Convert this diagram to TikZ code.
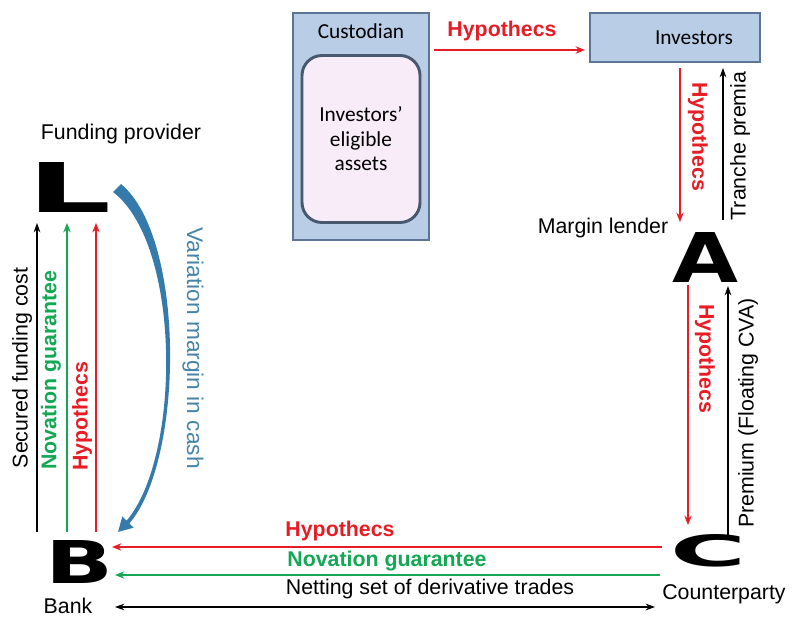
\documentclass[tikz,border=0pt]{standalone}
\usepackage{fontspec}
\setmainfont{Liberation Sans}
\newfontfamily\calfont{Carlito}
\newfontfamily\heavyfont{DejaVu Sans}
\usetikzlibrary{arrows.meta, calc, positioning}

\newlength\px
\setlength\px{0.75pt}

\definecolor{hypred}{RGB}{232,28,36}
\definecolor{novgreen}{RGB}{20,168,84}
\definecolor{vmblue}{RGB}{52,122,170}
\definecolor{vmtext}{RGB}{70,132,168}
\definecolor{boxblue}{RGB}{186,205,230}
\definecolor{boxedge}{RGB}{92,116,150}
\definecolor{assetpink}{RGB}{249,236,249}
\definecolor{assetedge}{RGB}{72,88,110}

% big party letters
\newcommand{\bigltr}[3]{\resizebox{#2\px}{#3\px}{\heavyfont\bfseries #1}}

\begin{document}
\begin{tikzpicture}[x=0.75pt, y=-0.75pt,
    lbl/.style={font=\fontsize{16}{19}\selectfont, inner sep=0pt},
    hyplbl/.style={font=\fontsize{16}{19}\selectfont\bfseries, text=hypred, inner sep=0pt},
    novlbl/.style={font=\fontsize{16}{19}\selectfont\bfseries, text=novgreen, inner sep=0pt},
    callbl/.style={font=\calfont\fontsize{16}{18.4}\selectfont, inner sep=0pt},
    ltr/.style={inner sep=0pt, outer sep=0pt},
    party/.style={draw=boxedge, fill=boxblue, line width=1.2pt, inner sep=0pt},
    hyparr/.style={draw=hypred, line width=1.1pt, -{Stealth[length=7pt,width=5.5pt]}},
    novarr/.style={draw=novgreen, line width=1.1pt, -{Stealth[length=7pt,width=5.5pt]}},
    blkarr/.style={draw=black, line width=0.8pt, -{Stealth[length=7pt,width=5pt]}}]

    \useasboundingbox (0,0) rectangle (794,617);

    % Custodian and investors
    \node[party, minimum width=136\px, minimum height=227\px] (cust) at (361,126.5) {};
    \node[callbl] (custname) at (361,31) {Custodian};
    \node[draw=assetedge, fill=assetpink, line width=2.2pt, rounded corners=20\px,
          minimum width=118\px, minimum height=167\px, align=center, callbl] (assets) at (361,139)
          {Investors’\\eligible\\assets};
    \node[party, minimum width=170\px, minimum height=49\px] (inv) at (675,37.5) {};
    \node[callbl] (invname) at (694,38) {Investors};

    % Parties
    \node[ltr] (L) at (70,187) {\bigltr{L}{84}{50}};
    \node[ltr] (A) at (705.5,257) {\bigltr{A}{66}{50}};
    \node[ltr] (C) at (709,551) {\bigltr{C}{76}{32}};
    \node[ltr] (B) at (79.5,562) {\bigltr{B}{68}{43}};

    \node[lbl] (fund) at (121,134) {Funding provider};
    \node[lbl] (lend) at (603,228) {Margin lender};
    \node[lbl] (cpty) at (724,594) {Counterparty};
    \node[lbl] (bank) at (68,606) {Bank};

    % Top
    \draw[hyparr] ($(cust)+(73,-76.5)$) -- ($(inv)+(-90,12.5)$);
    \node[hyplbl] (h1) at (502,31) {Hypothecs};

    % Investors - margin lender
    \draw[hyparr] ($(inv)+(5,30.5)$) -- ($(A)+(-25.5,-35)$);
    \node[hyplbl, rotate=-90] (h2) at (698,137) {Hypothecs};
    \draw[blkarr] ($(A)+(17.5,-37)$) -- ($(inv)+(48,30.5)$);
    \node[lbl, rotate=90] (tp) at (740,146) {Tranche premia};

    % Margin lender - counterparty
    \draw[hyparr] ($(A)+(-17.5,28)$) -- ($(C)+(-21,-26)$);
    \node[hyplbl, rotate=-90] (h3) at (705,359) {Hypothecs};
    \draw[blkarr] ($(C)+(19,-16)$) -- ($(A)+(22.5,29)$);
    \node[lbl, rotate=90] (prem) at (748,413) {Premium (Floating CVA)};

    % Counterparty - bank
    \draw[hyparr] ($(C)+(-47,-4)$) -- ($(B)+(32.5,-15)$);
    \node[hyplbl] (h4) at (340,531) {Hypothecs};
    \draw[novarr] ($(C)+(-49,24)$) -- ($(B)+(35.5,13)$);
    \node[novlbl] (n1) at (387,561) {Novation guarantee};
    \draw[blkarr, {Stealth[length=7pt,width=5pt]}-{Stealth[length=7pt,width=5pt]}] ($(B)+(35.5,45)$) -- ($(C)+(-54,56)$);
    \node[lbl] (net) at (430,589) {Netting set of derivative trades};

    % Bank - funding provider
    \draw[blkarr] ($(B)+(-42.5,-30)$) -- ($(L)+(-33,36)$);
    \node[lbl, rotate=90] (sfc) at (22,368) {Secured funding cost};
    \draw[novarr] ($(B)+(-12.5,-30)$) -- ($(L)+(-3,36)$);
    \node[novlbl, rotate=90] (n2) at (51,370) {Novation guarantee};
    \draw[hyparr] ($(B)+(16.5,-30)$) -- ($(L)+(26,36)$);
    \node[hyplbl, rotate=90] (h5) at (82,416) {Hypothecs};

    % Variation margin (tapered block arrow)
    \fill[vmblue] ($(L)+(51,-3)$) .. controls ($(L)+(116,51)$) and ($(B)+(104.5,-102)$) .. ($(B)+(49.9,-38.6)$)
        -- ($(B)+(54.2,-34.3)$) -- ($(B)+(38.6,-30.1)$) -- ($(B)+(42.8,-45.7)$) -- ($(B)+(47.1,-41.4)$)
        .. controls ($(B)+(101.5,-105)$) and ($(L)+(112,58)$) .. ($(L)+(43,5)$) -- cycle;
    \node[lbl, font=\fontsize{17}{20}\selectfont, text=vmtext, rotate=-90] (vm) at (193,348) {Variation margin in cash};
\end{tikzpicture}
\end{document}
